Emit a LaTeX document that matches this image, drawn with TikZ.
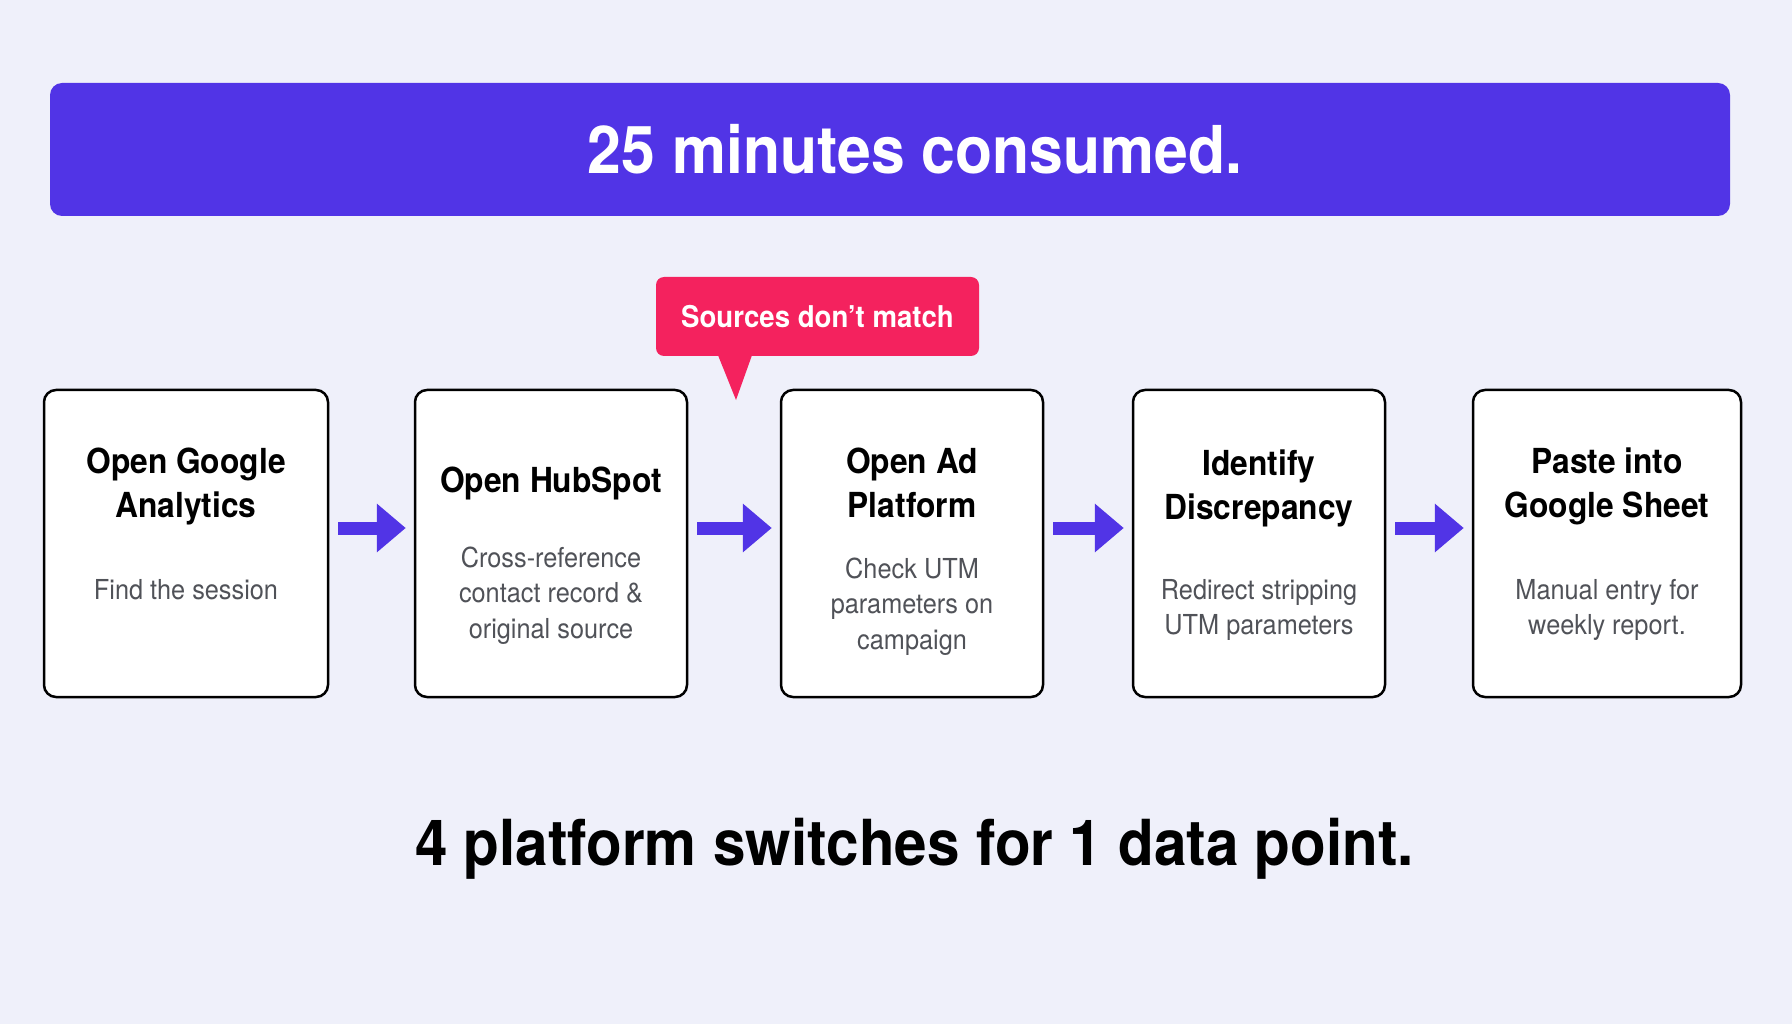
\documentclass[tikz,border=0pt]{standalone}
\usepackage{fontspec}
\setmainfont{TeX Gyre Heros}
\newfontfamily\narrowsans[FakeStretch=0.92]{TeX Gyre Heros}
\usetikzlibrary{arrows.meta,positioning}
\definecolor{PageBg}{HTML}{EFF0FA}
\definecolor{FlowIndigo}{HTML}{5134E6}
\definecolor{AlertPink}{HTML}{F4225E}
\definecolor{NoteGray}{HTML}{505258}

\begin{document}
\begin{tikzpicture}[
    x=1pt,y=1pt,
    banner/.style={rounded corners=12pt,fill=FlowIndigo,minimum width=1680pt,minimum height=133pt},
    bannertext/.style={text=white,font=\narrowsans\bfseries\fontsize{66}{72}\selectfont},
    tag/.style={rounded corners=8pt,fill=AlertPink,text=white,minimum width=323pt,minimum height=79pt,font=\narrowsans\bfseries\fontsize{30}{36}\selectfont},
    stepbox/.style={draw=black,line width=2.5pt,rounded corners=12pt,fill=white,minimum height=307pt,inner sep=0pt},
    steptitle/.style={anchor=base,align=center,text=black,font=\narrowsans\bfseries\fontsize{34.5}{44}\selectfont},
    stepnote/.style={anchor=base,align=center,text=NoteGray,font=\narrowsans\fontsize{27.5}{35.5}\selectfont},
    flow/.style={-{Triangle[length=29pt,width=47pt]},line width=13pt,draw=FlowIndigo,shorten <=9pt,shorten >=8pt}
  ]
    \useasboundingbox (0,0) rectangle (1792,-1024);
    \fill[PageBg] (0,0) rectangle (1792,-1024);

    \node[banner] (banner) at (890,-149.5) {};
    \node[bannertext] (banner-t) at (915,-149.5) {25 minutes consumed.};

    \node[stepbox,minimum width=284pt] (ga) at (186,-543.5) {};
    \node[stepbox,minimum width=272pt] (hub) at (551,-543.5) {};
    \node[stepbox,minimum width=262pt] (ads) at (912,-543.5) {};
    \node[stepbox,minimum width=252pt] (gap) at (1259,-543.5) {};
    \node[stepbox,minimum width=268pt] (sheet) at (1607,-543.5) {};

    \node[steptitle] (ga-t) at (186,-517) {Open Google\\Analytics};
    \node[stepnote] (ga-n) at (186,-599) {Find the session};
    \node[steptitle] (hub-t) at (551,-492) {Open HubSpot};
    \node[stepnote] (hub-n) at (551,-638) {Cross-reference\\contact record \&\\original source};
    \node[steptitle] (ads-t) at (912,-517) {Open Ad\\Platform};
    \node[stepnote] (ads-n) at (912,-649) {Check UTM\\parameters on\\campaign};
    \node[steptitle] (gap-t) at (1259,-519) {Identify\\Discrepancy};
    \node[stepnote] (gap-n) at (1259,-634.5) {Redirect stripping\\UTM parameters};
    \node[steptitle] (sheet-t) at (1607,-517) {Paste into\\Google Sheet};
    \node[stepnote] (sheet-n) at (1607,-634.5) {Manual entry for\\weekly report.};

    \draw[flow] ([yshift=15.5pt]ga.east) -- ([yshift=15.5pt]hub.west);
    \draw[flow] ([yshift=15.5pt]hub.east) -- ([yshift=15.5pt]ads.west);
    \draw[flow] ([yshift=15.5pt]ads.east) -- ([yshift=15.5pt]gap.west);
    \draw[flow] ([yshift=15.5pt]gap.east) -- ([yshift=15.5pt]sheet.west);

    \node[tag] (mismatch) at (817.5,-316.5) {Sources don’t match};
    \coordinate (mismatch-tip) at (736,-400);
    \fill[AlertPink] ([xshift=-99.5pt,yshift=1pt]mismatch.south) -- (mismatch-tip) -- ([xshift=-65.5pt,yshift=1pt]mismatch.south) -- cycle;

    \node[anchor=base,font=\narrowsans\bfseries\fontsize{63.5}{70}\selectfont] (summary) at (914.5,-865) {4 platform switches for 1 data point.};
  \end{tikzpicture}
\end{document}
